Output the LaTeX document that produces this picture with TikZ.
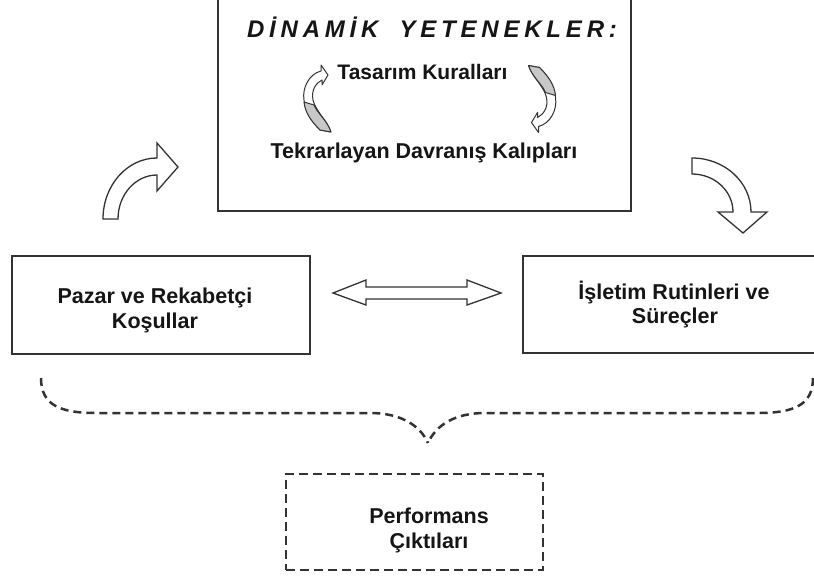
\documentclass[tikz,border=0pt]{standalone}
\usepackage{fontspec}
\setmainfont{Liberation Sans}
\definecolor{linegray}{HTML}{333333}
\definecolor{textblack}{HTML}{151515}
\definecolor{curlgray}{HTML}{C8C8C8}
\newcommand{\smallcurl}{%
  \draw[curl] (4,-28) .. controls (-8,-25) and (-15,-11) .. (-13,1)
     .. controls (-12,13) and (-5,23) .. (3,31) -- (14,33)
     .. controls (10,21) and (-1,13) .. (-4,1)
     .. controls (-6,-9) and (-1,-16) .. (5,-19) -- (5,-14) -- (11,-24) -- (4,-34) -- cycle;
  \draw[curl, fill=curlgray] (-13,3) .. controls (-12,14) and (-5,23) .. (3,31) -- (14,33)
     .. controls (10,21) and (0,14) .. (-3,6) -- cycle;}
\begin{document}
\begin{tikzpicture}[x=1pt,y=-1pt,
  box/.style={draw=linegray, line width=1.5pt, fill=white, inner sep=0pt},
  dbox/.style={draw=linegray, line width=2pt, dash pattern=on 9pt off 5pt, inner sep=0pt},
  txt/.style={font=\fontsize{21.5}{25}\selectfont\bfseries, text=textblack, inner sep=0pt, anchor=base},
  blockarrow/.style={draw=linegray, line width=1.3pt, fill=white, line join=miter},
  curl/.style={draw=linegray, line width=1pt, fill=white, line join=round},
  bracepath/.style={draw=linegray, line width=2.5pt, dash pattern=on 8pt off 5pt}]
\useasboundingbox (0,0) rectangle (814,578);
\clip (0,0) rectangle (814,578);
% boxes
\node[box, minimum width=413pt, minimum height=215pt] (dyn) at (424.5,103.5) {};
\node[box, minimum width=298pt, minimum height=98pt] (market) at (161,305) {};
\node[box, minimum width=300pt, minimum height=97pt] (ops) at (673,304.5) {};
\node[dbox, minimum width=257pt, minimum height=96pt] (perf) at (414.5,522) {};
% texts
\node[txt, font=\fontsize{24}{28}\selectfont\bfseries\itshape\addfontfeatures{LetterSpace=20}] (title) at (432,38) {DİNAMİK\hspace{21pt}YETENEKLER:};
\node[txt, font=\fontsize{21}{25}\selectfont\bfseries] (rules) at (422.5,79) {Tasarım Kuralları};
\node[txt] (patterns) at (424,158) {Tekrarlayan Davranış Kalıpları};
\node[txt] (m1) at (155,303) {Pazar ve Rekabetçi};
\node[txt] (m2) at (155,328) {Koşullar};
\node[txt] (o1) at (674,299) {İşletim Rutinleri ve};
\node[txt] (o2) at (675,323) {Süreçler};
\node[txt] (p1) at (429,523) {Performans};
\node[txt] (p2) at (429,548) {Çıktıları};
% small curled arrows
\begin{scope}[shift={(317,99)}]\smallcurl\end{scope}
\begin{scope}[shift={(542.5,98.5)}, rotate=180]\smallcurl\end{scope}
% curved block arrow up-right
\draw[blockarrow] (103,219) .. controls (103,185.3) and (127.2,158) .. (157,158)
  -- (157,143) -- (178,167) -- (157,191) -- (157,175)
  .. controls (135.5,175) and (118,194.7) .. (118,219) -- cycle;
% curved block arrow down-right
\draw[blockarrow] (692,158) .. controls (724.6,158) and (751,182.2) .. (751,212)
  -- (767,212) -- (743,233) -- (718,212) -- (733,212)
  .. controls (733,191) and (714.6,174) .. (692,174) -- cycle;
% double arrow
\draw[blockarrow] (333,293) -- (366,280) -- (366,287) -- (467,287) -- (467,280)
  -- (501,293) -- (467,305) -- (467,299) -- (366,299) -- (366,305) -- cycle;
% dashed brace
\coordinate (bl) at (41,378);
\coordinate (br) at (813,378);
\coordinate (bp) at (428,443);
\draw[bracepath] (bl) .. controls (41,405) and (60,413) .. (96,413) -- (370,413)
  .. controls (400,413) and (420,425) .. (bp);
\draw[bracepath] (br) .. controls (813,405) and (794,413) .. (758,413) -- (485,413)
  .. controls (455,413) and (436,425) .. (bp);
\end{tikzpicture}
\end{document}
